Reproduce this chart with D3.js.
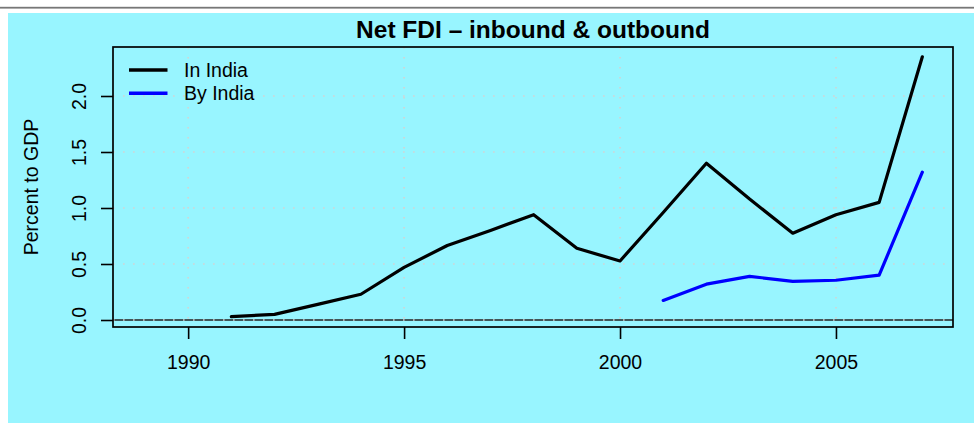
<!DOCTYPE html>
<html>
<head>
<meta charset="utf-8">
<script src="https://cdn.jsdelivr.net/npm/d3@7"></script>
<style>
  body { margin: 0; background: #fff; }
  text { font-family: "Liberation Sans", Arial, Helvetica, sans-serif; fill: #000; }
</style>
</head>
<body>
<div id="chart"></div>
<script>
// Data (percent of GDP)
const years = [1991, 1992, 1993, 1994, 1995, 1996, 1997, 1998, 1999, 2000, 2001, 2002, 2003, 2004, 2005, 2006, 2007];
const inIndia = [0.03, 0.05, 0.14, 0.23, 0.47, 0.665, 0.80, 0.94, 0.64, 0.527, 0.96, 1.40, 1.08, 0.775, 0.94, 1.05, 2.35];
const byYears = [2001, 2002, 2003, 2004, 2005, 2006, 2007];
const byIndia = [0.175, 0.32, 0.39, 0.345, 0.355, 0.40, 1.32];
const xTicks = [1990, 1995, 2000, 2005];
const yTicks = [0, 0.5, 1, 1.5, 2];
const seriesNames = ["In India", "By India"];
const seriesColors = ["#000000", "#0000ff"];

const width = 974;
const height = 423;
const margin = {top: 47, right: 21, bottom: 96, left: 113};

const svg = d3.select("#chart")
    .append("svg")
    .attr("width", width)
    .attr("height", height);

// Page chrome: grey rule on top and the cyan panel
svg.append("rect")
    .attr("x", 0).attr("y", 6.8)
    .attr("width", width).attr("height", 1.8)
    .attr("fill", "#777");
svg.append("rect")
    .attr("x", 8).attr("y", 13)
    .attr("width", width - 8).attr("height", height - 13)
    .attr("fill", "#98f5ff");

const x = d3.scaleLinear()
    .domain([1988.26, 2007.71])
    .range([margin.left, width - margin.right]);

const y = d3.scaleLinear()
    .domain([-0.0625, 2.4375])
    .range([height - margin.bottom, margin.top]);

const fmt = d3.format(".1f");

// Zero line
svg.append("line")
    .attr("x1", margin.left).attr("x2", width - margin.right)
    .attr("y1", y(0)).attr("y2", y(0))
    .attr("stroke", "#222")
    .attr("stroke-width", 1.6);

// Dotted grid
const grid = svg.append("g")
    .attr("stroke", "#d3d3d3")
    .attr("stroke-width", 1.6)
    .attr("stroke-dasharray", "1.6,8.4");
grid.selectAll(".gx")
    .data(xTicks)
    .enter().append("line")
    .attr("x1", d => x(d)).attr("x2", d => x(d))
    .attr("y1", margin.top).attr("y2", height - margin.bottom);
grid.selectAll(".gy")
    .data(yTicks)
    .enter().append("line")
    .attr("x1", margin.left).attr("x2", width - margin.right)
    .attr("y1", d => y(d)).attr("y2", d => y(d));

// Lines
const line = d3.line()
    .x(d => x(d[0]))
    .y(d => y(d[1]));

const series = [
    years.map((yr, i) => [yr, inIndia[i]]),
    byYears.map((yr, i) => [yr, byIndia[i]])
];

svg.selectAll(".series")
    .data(series)
    .enter().append("path")
    .attr("d", line)
    .attr("fill", "none")
    .attr("stroke", (d, i) => seriesColors[i])
    .attr("stroke-width", 3.2)
    .attr("stroke-linecap", "round")
    .attr("stroke-linejoin", "round");

// Axes
const xAxis = d3.axisBottom(x)
    .tickValues(xTicks)
    .tickSize(12)
    .tickPadding(5)
    .tickFormat(d3.format("d"));

const gx = svg.append("g")
    .attr("transform", `translate(0,${height - margin.bottom})`)
    .call(xAxis);
gx.select(".domain").remove();
gx.selectAll("line").attr("stroke", "#000").attr("stroke-width", 1.6);
gx.selectAll("text").attr("font-size", 19.5).attr("dy", "1.3em");

const yAxis = d3.axisLeft(y)
    .tickValues(yTicks)
    .tickSize(12)
    .tickFormat(fmt);

const gy = svg.append("g")
    .attr("transform", `translate(${margin.left},0)`)
    .call(yAxis);
gy.select(".domain").remove();
gy.selectAll("line").attr("stroke", "#000").attr("stroke-width", 1.6);
gy.selectAll("text")
    .attr("font-size", 19.5)
    .attr("x", 0)
    .attr("dy", null)
    .attr("text-anchor", "middle")
    .attr("transform", "translate(-32,0) rotate(-90)")
    .attr("y", 0)
    .attr("dominant-baseline", "middle");

// Plot box
svg.append("rect")
    .attr("x", margin.left).attr("y", margin.top)
    .attr("width", width - margin.left - margin.right)
    .attr("height", height - margin.top - margin.bottom)
    .attr("fill", "none")
    .attr("stroke", "#000")
    .attr("stroke-width", 1.7);

// Title and axis label
svg.append("text")
    .attr("x", (margin.left + width - margin.right) / 2)
    .attr("y", 37.5)
    .attr("text-anchor", "middle")
    .attr("font-size", 24.5)
    .attr("font-weight", "bold")
    .text("Net FDI \u2013 inbound & outbound");

svg.append("text")
    .attr("transform", `translate(38,${(margin.top + height - margin.bottom) / 2}) rotate(-90)`)
    .attr("text-anchor", "middle")
    .attr("font-size", 19.5)
    .text("Percent to GDP");

// Legend
const legend = svg.append("g")
    .attr("transform", "translate(129,70)");
const items = legend.selectAll("g")
    .data(seriesNames)
    .enter().append("g")
    .attr("transform", (d, i) => `translate(0,${i * 23.3})`);
items.append("line")
    .attr("x1", 0).attr("x2", 38.5)
    .attr("stroke", (d, i) => seriesColors[i])
    .attr("stroke-width", 3.6);
items.append("text")
    .attr("x", 55)
    .attr("dy", "0.35em")
    .attr("font-size", 19.5)
    .text(d => d);
</script>
</body>
</html>
